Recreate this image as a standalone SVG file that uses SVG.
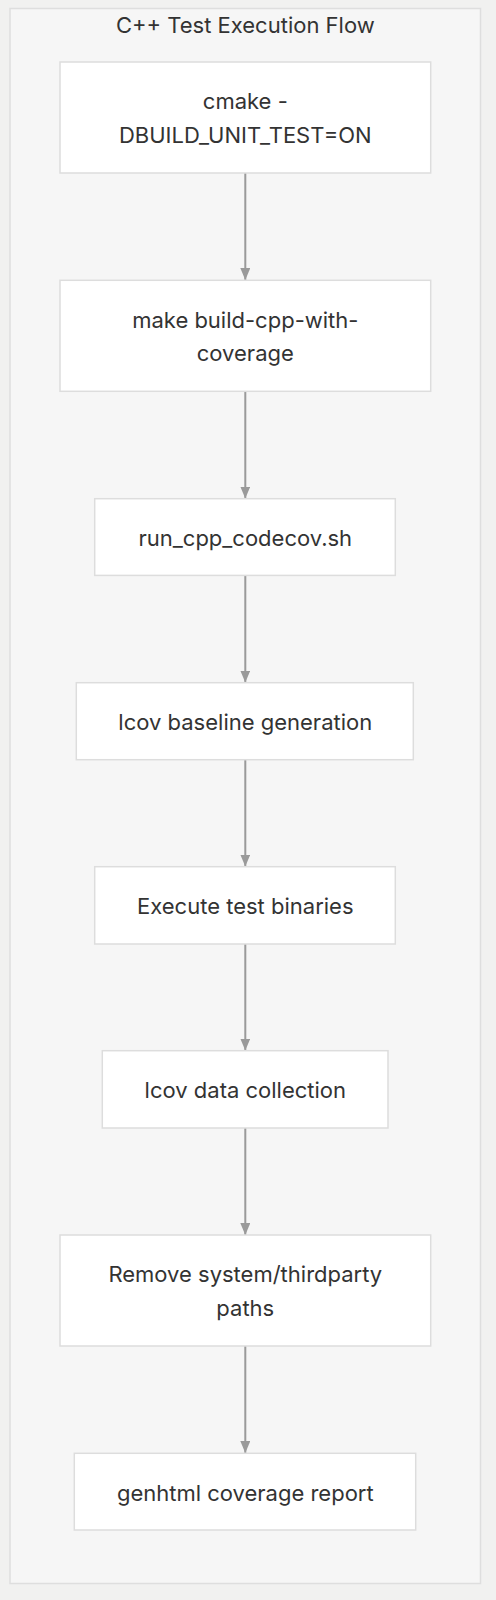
<svg xmlns="http://www.w3.org/2000/svg" width="496" height="1600" viewBox="0 0 496 1600">
<style>
.bg{fill:#f1f1f0}
.cluster{fill:#f6f6f6;stroke:#dedede;stroke-width:1.5}
.node rect{fill:#ffffff;stroke:#dddddd;stroke-width:1.5}
text{font-family:Inter,"Liberation Sans",Arial,sans-serif;font-size:22px;fill:#333333;text-anchor:middle}
.edge{stroke:#9a9a9a;stroke-width:2;fill:none}
</style>
<defs>
<marker id="arr" viewBox="0 0 12 10" refX="12" refY="5" markerWidth="12" markerHeight="10" markerUnits="userSpaceOnUse" orient="auto">
<path d="M0,0 L12,5 L0,10 z" fill="#9a9a9a"/>
</marker>
</defs>
<rect class="bg" x="0" y="0" width="496" height="1600"/>
<g id="cluster">
<rect class="cluster" x="10" y="8.5" width="470.5" height="1575"/>
<text x="245.3" y="33">C++ Test Execution Flow</text>
</g>
<g id="edges">
<line class="edge" x1="245.3" y1="173" x2="245.3" y2="280" marker-end="url(#arr)"/>
<line class="edge" x1="245.3" y1="391.5" x2="245.3" y2="498.5" marker-end="url(#arr)"/>
<line class="edge" x1="245.3" y1="575.5" x2="245.3" y2="682.5" marker-end="url(#arr)"/>
<line class="edge" x1="245.3" y1="759.7" x2="245.3" y2="866.5" marker-end="url(#arr)"/>
<line class="edge" x1="245.3" y1="944" x2="245.3" y2="1050.5" marker-end="url(#arr)"/>
<line class="edge" x1="245.3" y1="1128" x2="245.3" y2="1235" marker-end="url(#arr)"/>
<line class="edge" x1="245.3" y1="1346" x2="245.3" y2="1453" marker-end="url(#arr)"/>
</g>
<g id="n1" class="node">
<rect x="60" y="62" width="370.7" height="111"/>
<text x="245.3" y="109">cmake -</text>
<text x="245.3" y="142.5">DBUILD_UNIT_TEST=ON</text>
</g>
<g id="n2" class="node">
<rect x="60" y="280.3" width="370.7" height="111"/>
<text x="245.3" y="328">make build-cpp-with-</text>
<text x="245.3" y="361">coverage</text>
</g>
<g id="n3" class="node">
<rect x="94.7" y="498.7" width="300.6" height="76.7"/>
<text x="245.3" y="546">run_cpp_codecov.sh</text>
</g>
<g id="n4" class="node">
<rect x="76.3" y="682.7" width="337" height="77"/>
<text x="245.3" y="730">lcov baseline generation</text>
</g>
<g id="n5" class="node">
<rect x="94.7" y="866.7" width="300.6" height="77.3"/>
<text x="245.3" y="914">Execute test binaries</text>
</g>
<g id="n6" class="node">
<rect x="102.3" y="1050.7" width="285.7" height="77.3"/>
<text x="245.3" y="1098">lcov data collection</text>
</g>
<g id="n7" class="node">
<rect x="60" y="1235" width="370.7" height="111"/>
<text x="245.3" y="1281.7">Remove system/thirdparty</text>
<text x="245.3" y="1315.5">paths</text>
</g>
<g id="n8" class="node">
<rect x="74.3" y="1453.3" width="341.4" height="76.7"/>
<text x="245.3" y="1500.5">genhtml coverage report</text>
</g>
</svg>
